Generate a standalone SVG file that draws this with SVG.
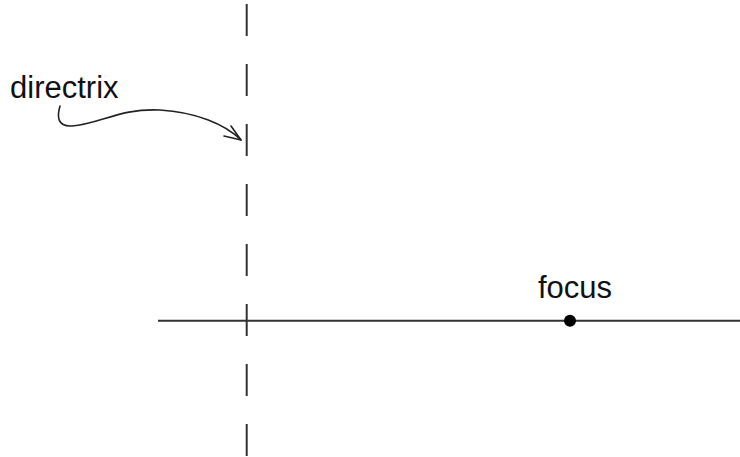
<svg xmlns="http://www.w3.org/2000/svg" width="740" height="457" viewBox="0 0 740 457">
<style>
.line{stroke:#333;stroke-width:2;fill:none}
.lbl{font-family:"Liberation Sans",Arial,sans-serif;font-size:31px;fill:#111}
.curve{stroke:#222;stroke-width:1.6;fill:none;stroke-linecap:round;stroke-linejoin:round}
</style>
<rect width="740" height="457" fill="#fff"/>
<g id="directrix">
<line class="line" x1="246.7" y1="4" x2="246.7" y2="457" stroke-dasharray="32 28"/>
</g>
<g id="axis">
<line class="line" x1="158" y1="320.7" x2="740" y2="320.7"/>
</g>
<g id="focus">
<circle cx="570" cy="320.7" r="6" fill="#000"/>
<text class="lbl" x="538" y="298">focus</text>
</g>
<g id="directrix-label">
<text class="lbl" x="10" y="97.5">directrix</text>
</g>
<g id="connectors">
<path class="curve" d="M60,106 C57,116 57,127 72,126 C100,124 120,108 160,110 C195,112 225,124 241,140"/>
<path class="curve" d="M231,126 L241,140 L224,136"/>
</g>
</svg>
